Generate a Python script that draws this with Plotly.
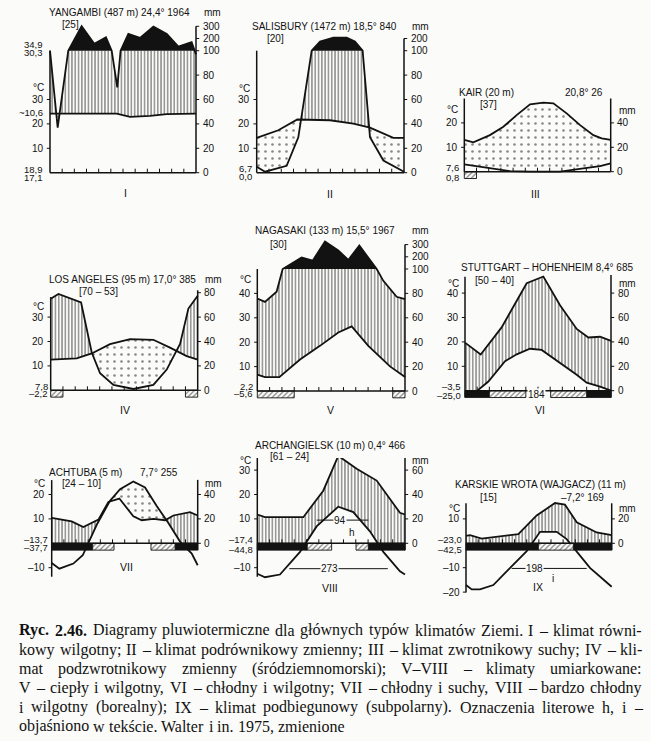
import numpy as np
import plotly.graph_objects as go

W, H = 651, 741
S = 2.44                      # px per 1 °C  (10 °C = 20 mm)
BAR = 2.8                     # height of the frost bars (°C units)
INK = '#121212'
PAPER = '#fbfbf9'
SANS = 'Liberation Sans, Arial, Helvetica, sans-serif'
SERIF = 'Liberation Serif, Times New Roman, serif'

# ====================== DATA (month position 0-12, °C, mm) ======================
# I  Yangambi
yangambi_title = 'YANGAMBI (487 m) 24,4° 1964'
yangambi_years = '[25]'
yangambi_temp_x = [0, 5.48, 6.58, 8.22, 9.59, 12]
yangambi_temp = [24.2, 24.2, 22.9, 23.3, 24.0, 24.2]
yangambi_prec_x = [0, 0.63, 1.5, 2.6, 3.64, 4.6, 5.07, 5.53, 5.8, 6.44, 7.4, 8.5, 9.6, 10.55, 11.64, 12]
yangambi_prec = [100, 37, 100, 300, 156, 210, 100, 70, 100, 238, 205, 297, 238, 134, 170, 97]
yangambi_extremes = [('34,9', 52.6), ('30,3', 49.3), ('~10,6', 24.8), ('18,9', 1.2), ('17,1', -2.1)]

# II  Salisbury
salisbury_title = 'SALISBURY (1472 m) 18,5° 840'
salisbury_years = '[20]'
salisbury_temp_x = [0, 1.76, 3.31, 3.67, 5.97, 7.87, 9.23, 11.13, 12]
salisbury_temp = [14.3, 17.4, 21.8, 21.8, 21.5, 20.1, 18.5, 14.3, 14.3]
salisbury_prec_x = [0, 0.68, 2.44, 3.39, 4.48, 5.16, 6.25, 7.33, 8.0, 8.63, 9.23, 10.32, 12]
salisbury_prec = [4.9, 0.8, 5.7, 29, 100, 176, 206, 206, 176, 100, 29, 10, 0.8]
salisbury_extremes = [('6,7', 1.6), ('0,0', -1.6)]

# III  Kair
kair_title = 'KAIR (20 m)'
kair_means = '20,8° 26'
kair_years = '[37]'
kair_temp_x = [0, 0.74, 2.1, 3.2, 4.29, 5.39, 6.48, 7.3, 8.39, 9.49, 10.58, 11.26, 12]
kair_temp = [13.0, 12.0, 15.0, 18.4, 23.2, 27.6, 28.3, 28.0, 23.9, 19.1, 15.0, 13.7, 13.0]
kair_prec_x = [0, 1.01, 2.38, 3.75, 5.39, 7.85, 9.76, 11.13, 12]
kair_prec = [6.0, 4.6, 2.7, 0.5, 0, 0, 2.7, 4.6, 6.8]
kair_extremes = [('7,6', 1.6), ('0,8', -2.3)]
kair_frost_hatch = [(0, 1)]

# IV  Los Angeles
la_title = 'LOS ANGELES (95 m) 17,0° 385'
la_years = '[70 – 53]'
la_temp_x = [0, 2.12, 3.35, 4.84, 6.48, 8.38, 9.74, 11.1, 12]
la_temp = [12.6, 13.1, 15.1, 18.9, 21.0, 20.7, 17.5, 14.0, 12.6]
la_prec_x = [0, 0.63, 2.48, 3.35, 4.03, 5.12, 6.75, 8.38, 9.47, 10.56, 11.24, 12]
la_prec = [75, 79, 72, 31, 14, 4.4, 1.1, 4.4, 17, 38, 67, 77.5]
la_extremes = [('7,8', 1.6), ('–2,2', -1.4)]
la_frost_hatch = [(0, 1), (11, 12)]

# V  Nagasaki
nagasaki_title = 'NAGASAKI (133 m) 15,5° 1967'
nagasaki_years = '[30]'
nagasaki_temp_x = [0, 0.62, 1.79, 3.47, 5.09, 6.58, 7.67, 9.02, 10.78, 12]
nagasaki_temp = [6.7, 5.7, 5.7, 12.9, 18.5, 24.0, 26.5, 18.5, 10.1, 5.7]
nagasaki_prec_x = [0, 0.62, 1.57, 2.06, 3.6, 4.5, 5.5, 6.58, 7.39, 8.29, 9.7, 10.24, 11.32, 12]
nagasaki_prec = [75.8, 73, 81.4, 100, 195, 168, 326, 253, 174, 292, 100, 90.3, 77.2, 75.3]
nagasaki_extremes = [('2,2', 1.8), ('–5,6', -1.1)]
nagasaki_frost_hatch = [(0, 3), (11, 12)]

# VI  Stuttgart-Hohenheim
stuttgart_title = 'STUTTGART – HOHENHEIM 8,4° 685'
stuttgart_years = '[50 – 40]'
stuttgart_temp_x = [0, 1.01, 1.92, 3.29, 4.25, 5.34, 6.3, 7.81, 9.18, 10.0, 11.1, 12]
stuttgart_temp = [-0.8, 0, 3.75, 12.1, 14.9, 17.2, 16.7, 11.4, 6.5, 3.3, 1.7, 0]
stuttgart_prec_x = [0, 1.29, 3.01, 5.07, 6.44, 7.81, 9.18, 10.14, 11.1, 12]
stuttgart_prec = [39.4, 29.7, 51.9, 88.1, 93.6, 70, 50.6, 43.6, 44.2, 40.8]
stuttgart_extremes = [('–3,5', 1.7), ('–25,0', -1.8)]
stuttgart_frost_black = [(0, 2), (10, 12)]
stuttgart_frost_hatch = [(2, 5), (7.04, 10)]
stuttgart_frost_free = '184'

# VII  Achtuba
achtuba_title = 'ACHTUBA (5 m)'
achtuba_means = '7,7° 255'
achtuba_years = '[24 – 10]'
achtuba_temp_x = [0, 0.63, 1.78, 2.55, 3.7, 4.79, 5.62, 6.71, 7.67, 8.63, 9.59, 10.55, 11.51, 12]
achtuba_temp = [-8.1, -10.4, -8.3, -4.9, 7.6, 17.4, 22.2, 25.3, 22.9, 15.3, 8.3, 0.7, -4.2, -9.0]
achtuba_prec_x = [0, 0.55, 1.64, 2.6, 3.84, 4.66, 5.56, 6.71, 7.4, 8.36, 9.32, 10.0, 10.68, 11.37, 12]
achtuba_prec = [20.8, 20, 18, 13.3, 19.4, 33.9, 36.7, 22.2, 18.9, 20, 18.9, 22.8, 24.4, 25.6, 22.8]
achtuba_extremes = [('–13,7', 1.7), ('–37,7', -1.7)]
achtuba_frost_black = [(0, 3.37), (10.14, 12)]
achtuba_frost_hatch = [(3.37, 5.12), (8.16, 10.14)]

# VIII  Archangielsk
arch_title = 'ARCHANGIELSK (10 m) 0,4° 466'
arch_years = '[61 – 24]'
arch_temp_x = [0, 0.62, 1.84, 3.47, 4.82, 6.58, 7.8, 9.15, 10.24, 11.59, 12]
arch_temp = [-12.5, -13.9, -12.8, -3.5, 6.9, 15.0, 12.8, 4.9, -3.5, -11.5, -12.8]
arch_prec_x = [0, 0.62, 3.74, 5.36, 6.58, 8.07, 9.7, 10.78, 11.59, 12]
arch_prec = [23.6, 21.4, 21.4, 43.1, 71.7, 61.1, 51.4, 36.1, 25, 23.6]
arch_extremes = [('–17,4', 1.5), ('–44,8', -2.7)]
arch_frost_black = [(0, 4.06), (9.02, 12)]
arch_frost_hatch = [(4.06, 6.04), (8.02, 9.02)]
arch_periods = [('94', 9.5, 4.82, 9.02, 6.72), ('273', -10.4, 2.6, 10.6, 5.9)]   # label, level, start, end, label pos
arch_letter = ('h', 7.67, 4.4)

# IX  Karskie Wrota
kw_title = 'KARSKIE WROTA (WAJGACZ) (11 m)'
kw_means = '–7,2° 169'
kw_years = '[15]'
kw_temp_x = [0, 0.47, 1.15, 2.25, 3.49, 5.0, 6.1, 7.47, 8.29, 9.12, 10.21, 12]
kw_temp = [-17.1, -18.9, -18.9, -17.1, -10.8, -3.2, 4.7, 4.7, 1.7, -3.2, -10.1, -17.8]
kw_prec_x = [0, 0.33, 1.29, 4.31, 5.82, 7.33, 8.15, 9.12, 10.76, 12]
kw_prec = [6.1, 6.7, 3.9, 7.5, 22.8, 33, 31.7, 17.2, 8.9, 6.7]
kw_extremes = [('–23,0', 1.5), ('–42,5', -2.7)]
kw_frost_black = [(0, 5.96), (8.84, 12)]
kw_frost_hatch = [(5.96, 8.84)]
kw_periods = [('198', -10.3, 3.76, 9.94, 5.68)]
kw_letter = ('i', 7.19, -14.3)

caption_lines = [
    '**Ryc. **2.46.** Diagramy pluwiotermiczne dla głównych typów klimatów Ziemi. I – klimat równi-',
    'kowy wilgotny; II – klimat podrównikowy zmienny; III – klimat zwrotnikowy suchy; IV – kli-',
    'mat podzwrotnikowy zmienny (śródziemnomorski); V–VIII – klimaty umiarkowane:',
    'V – ciepły i wilgotny, VI – chłodny i wilgotny; VII – chłodny i suchy, VIII – bardzo chłodny',
    'i wilgotny (borealny); IX – klimat podbiegunowy (subpolarny). Oznaczenia literowe h, i –',
    'objaśniono w tekście. Walter i in. 1975, zmienione',
]
caption_justified = [True, True, True, True, True, False]


def deg_label(v):
    return ('–' + str(abs(v))) if v < 0 else str(v)


# ====================== PANEL SETUP (layout only) ======================
PANELS = [
    dict(num='I', xl=50, xr=196, yb=172.7, box=(34, 212, 8, 186),
         tx=yangambi_temp_x, t=yangambi_temp, px=yangambi_prec_x, p=yangambi_prec,
         lax=(0, 50), rax=(0, 60), lt=[10, 20, 30], rt=[0, 20, 40, 60, 80, 100, 200, 300],
         ext=yangambi_extremes, ldx=6.5, degc=34.8, black=[], hatch=[],
         texts=[(yangambi_title, 47, 12), ('mm', 202, 12), (yangambi_years, 60, 25)],
         roman=(125, 193)),
    dict(num='II', xl=256.7, xr=404, yb=172.7, box=(241, 420, 8, 186),
         tx=salisbury_temp_x, t=salisbury_temp, px=salisbury_prec_x, p=salisbury_prec,
         lax=(0, 50), rax=(0, 55), lt=[10, 20, 30], rt=[0, 20, 40, 60, 80, 100, 200],
         ext=salisbury_extremes, ldx=4, degc=34.7, black=[], hatch=[],
         texts=[(salisbury_title, 250, 26), ('mm', 410, 26), (salisbury_years, 265, 38)],
         roman=(330, 194)),
    dict(num='III', xl=464.3, xr=610.7, yb=171.7, box=(448, 627, 8, 186),
         tx=kair_temp_x, t=kair_temp, px=kair_prec_x, p=kair_prec,
         lax=(0, 30), rax=(0, 30), lt=[10, 20], rt=[0, 20, 40],
         ext=kair_extremes, ldx=4, degc=25.3, black=[], hatch=kair_frost_hatch,
         texts=[(kair_title, 456.7, 92.3), (kair_means, 563, 92.3), (kair_years, 478, 104), ('mm', 617, 111)],
         roman=(535, 194)),
    dict(num='IV', xl=50.7, xr=197.7, yb=390.3, box=(34, 212, 225, 405),
         tx=la_temp_x, t=la_temp, px=la_prec_x, p=la_prec,
         lax=(0, 38.2), rax=(0, 41), lt=[10, 20, 30], rt=[0, 20, 40, 60, 80],
         ext=la_extremes, ldx=2, degc=34.3, black=[], hatch=la_frost_hatch,
         texts=[(la_title, 46.7, 279), ('mm', 203, 279), (la_years, 77, 291)],
         roman=(125, 410)),
    dict(num='V', xl=257.3, xr=405, yb=391, box=(241, 420, 225, 405),
         tx=nagasaki_temp_x, t=nagasaki_temp, px=nagasaki_prec_x, p=nagasaki_prec,
         lax=(0, 50), rax=(0, 60), lt=[10, 20, 30, 40], rt=[0, 20, 40, 60, 80, 100, 200, 300],
         ext=nagasaki_extremes, ldx=3, degc=45.5, black=[], hatch=nagasaki_frost_hatch,
         texts=[(nagasaki_title, 253, 230.7), ('mm', 410, 230.7), (nagasaki_years, 268, 244)],
         roman=(330, 410)),
    dict(num='VI', xl=465, xr=611, yb=390.7, box=(448, 627, 225, 405),
         tx=stuttgart_temp_x, t=stuttgart_temp, px=stuttgart_prec_x, p=stuttgart_prec,
         lax=(-BAR, 46.7), rax=(-BAR, 47.4), lt=[10, 20, 30, 40], rt=[0, 20, 40, 60, 80],
         ext=stuttgart_extremes, ldx=3, degc=44.1, black=stuttgart_frost_black, hatch=stuttgart_frost_hatch,
         texts=[(stuttgart_title, 459, 267.3), (stuttgart_years, 473, 280.7), ('mm', 617, 283.3)],
         roman=(540, 410)),
    dict(num='VII', xl=51.7, xr=197.7, yb=543.3, box=(34, 212, 458, 602),
         tx=achtuba_temp_x, t=achtuba_temp, px=achtuba_prec_x, p=achtuba_prec,
         lax=(-13.7, 25.9), rax=(-BAR, 26), lt=[-10, 10, 20], rt=[0, 20, 40],
         ext=achtuba_extremes, ldx=3, degc=24.7, black=achtuba_frost_black, hatch=achtuba_frost_hatch,
         texts=[(achtuba_title, 46.7, 472.3), (achtuba_means, 138, 472.3), (achtuba_years, 60, 484), ('mm', 203, 483)],
         roman=(126.7, 566.7)),
    dict(num='VIII', xl=257.3, xr=405, yb=543.3, box=(241, 420, 458, 602),
         tx=arch_temp_x, t=arch_temp, px=arch_prec_x, p=arch_prec,
         lax=(-13.7, 37.6), rax=(-BAR, 36.9), lt=[-10, 10, 20, 30], rt=[0, 20, 40, 60],
         ext=arch_extremes, ldx=3, degc=34.1, black=arch_frost_black, hatch=arch_frost_hatch,
         texts=[(arch_title, 253, 445), (arch_years, 268, 456.7), ('mm', 410, 460.7)],
         roman=(330, 588.3), periods=arch_periods, letter=arch_letter),
    dict(num='IX', xl=466, xr=611.7, yb=543.3, box=(448, 627, 458, 602),
         tx=kw_temp_x, t=kw_temp, px=kw_prec_x, p=kw_prec,
         lax=(-20.2, 16.4), rax=(-BAR, 16.4), lt=[-20, -10, 10], rt=[0, 20],
         ext=kw_extremes, ldx=3, degc=14.3, black=kw_frost_black, hatch=kw_frost_hatch,
         texts=[(kw_title, 453, 485), (kw_years, 478, 497.7), (kw_means, 559, 497.7), ('mm', 617, 508.3)],
         roman=(538.3, 587.3), periods=kw_periods, letter=kw_letter),
]
PANELS[5]['free'] = (stuttgart_frost_free, 5.88, -1.5)


def eq(p):
    """precipitation (mm) -> diagram units: 20 mm = 10 °C, above 100 mm reduced 1:10"""
    p = np.asarray(p, dtype=float)
    return np.where(p <= 100, p / 2.0, 50 + (p - 100) / 20.0)


def crossings(xs, f):
    out = []
    for i in range(len(xs) - 1):
        a, b = f[i], f[i + 1]
        if a * b < 0:
            out.append(xs[i] + (xs[i + 1] - xs[i]) * a / (a - b))
    return out


fig = go.Figure()
annotations = []


def paper(xp, yp):
    return xp / W, 1 - yp / H


for i, P in enumerate(PANELS, start=1):
    xa = 'x' if i == 1 else f'x{i}'
    ya = 'y' if i == 1 else f'y{i}'
    xl, xr, yb = P['xl'], P['xr'], P['yb']
    mpx = (xr - xl) / 12.0
    bx0, bx1, by0, by1 = P['box']
    ax_key = '' if i == 1 else str(i)
    fig.update_layout(**{
        f'xaxis{ax_key}': dict(domain=[bx0 / W, bx1 / W], range=[(bx0 - xl) / mpx, (bx1 - xl) / mpx],
                               visible=False, anchor=ya, fixedrange=True),
        f'yaxis{ax_key}': dict(domain=[1 - by1 / H, 1 - by0 / H], range=[(yb - by1) / S, (yb - by0) / S],
                               visible=False, anchor=xa, fixedrange=True),
    })
    dxm = lambda d: d / mpx
    dyd = lambda d: d / S

    tx, tv = np.array(P['tx'], float), np.array(P['t'], float)
    pxv, pv = np.array(P['px'], float), eq(P['p'])
    xs = np.union1d(tx, pxv)
    T = np.interp(xs, tx, tv)
    Pq = np.interp(xs, pxv, pv)
    extra = crossings(xs, Pq - T) + crossings(xs, Pq - 50) + crossings(xs, T)
    xs = np.union1d(xs, extra)
    T = np.interp(xs, tx, tv)
    Pq = np.interp(xs, pxv, pv)

    def poly(up, low, **kw):
        fig.add_trace(go.Scatter(x=list(xs) + list(xs[::-1]), y=list(up) + list(low[::-1]),
                                 mode='lines', line=dict(width=0), fill='toself',
                                 xaxis=xa, yaxis=ya, showlegend=False, hoverinfo='skip', **kw))

    low_h = np.maximum(T, 0)
    up_h = np.maximum(np.minimum(Pq, 50), low_h)
    poly(up_h, low_h, fillcolor='rgba(0,0,0,0)',
         fillpattern=dict(shape='|', fgcolor=INK, bgcolor='rgba(0,0,0,0)', size=3.3, solidity=0.42))
    poly(np.maximum(T, Pq), Pq, fillcolor='rgba(0,0,0,0)',
         fillpattern=dict(shape='.', fgcolor=INK, bgcolor='rgba(0,0,0,0)', size=7, solidity=0.11))
    if Pq.max() > 50:
        poly(np.maximum(Pq, 50), np.full_like(Pq, 50.0), fillcolor=INK)

    # curves
    fig.add_trace(go.Scatter(x=tx, y=tv, mode='lines', line=dict(color=INK, width=1.8),
                             xaxis=xa, yaxis=ya, showlegend=False, hoverinfo='skip'))
    fig.add_trace(go.Scatter(x=pxv, y=pv, mode='lines', line=dict(color=INK, width=1.8),
                             xaxis=xa, yaxis=ya, showlegend=False, hoverinfo='skip'))

    # frost bars
    for (a, b) in P['black']:
        fig.add_trace(go.Scatter(x=[a, b, b, a, a], y=[0, 0, -BAR, -BAR, 0], mode='lines',
                                 line=dict(color=INK, width=0.8), fill='toself', fillcolor=INK,
                                 xaxis=xa, yaxis=ya, showlegend=False, hoverinfo='skip'))
    for (a, b) in P['hatch']:
        fig.add_trace(go.Scatter(x=[a, b, b, a, a], y=[0, 0, -BAR, -BAR, 0], mode='lines',
                                 line=dict(color=INK, width=0.9), fill='toself', fillcolor=PAPER,
                                 fillpattern=dict(shape='/', fgcolor=INK, bgcolor=PAPER, size=3.6, solidity=0.35),
                                 xaxis=xa, yaxis=ya, showlegend=False, hoverinfo='skip'))

    # axes lines
    ax_x, ax_y = [], []
    ax_x += [0, 0, None]; ax_y += [P['lax'][0], P['lax'][1], None]
    ax_x += [12, 12, None]; ax_y += [P['rax'][0], P['rax'][1], None]
    ax_x += [0, 12, None]; ax_y += [0, 0, None]
    fig.add_trace(go.Scatter(x=ax_x, y=ax_y, mode='lines', line=dict(color=INK, width=1.5),
                             xaxis=xa, yaxis=ya, showlegend=False, hoverinfo='skip'))
    tk_x, tk_y = [], []
    for m in range(1, 12):
        tk_x += [m, m, None]; tk_y += [0, dyd(4), None]
    for v in P['lt']:
        tk_x += [0, -dxm(3.2), None]; tk_y += [v, v, None]
    for mm in P['rt']:
        e = float(eq(mm))
        tk_x += [12, 12 + dxm(3.2), None]; tk_y += [e, e, None]
    fig.add_trace(go.Scatter(x=tk_x, y=tk_y, mode='lines', line=dict(color=INK, width=1.0),
                             xaxis=xa, yaxis=ya, showlegend=False, hoverinfo='skip'))

    font = dict(family=SANS, size=10, color=INK)
    small = dict(family=SANS, size=9.5, color=INK)
    for v in P['lt']:
        annotations.append(dict(x=-dxm(4.5), y=v, xref=xa, yref=ya, text=deg_label(v), showarrow=False,
                                xanchor='right', yanchor='middle', font=font))
    for txt, v in P['ext']:
        annotations.append(dict(x=-dxm(P['ldx']), y=v, xref=xa, yref=ya, text=txt, showarrow=False,
                                xanchor='right', yanchor='middle', font=small, borderpad=0))
    annotations.append(dict(x=-dxm(4.5), y=P['degc'], xref=xa, yref=ya, text='°C', showarrow=False,
                            xanchor='right', yanchor='middle', font=font))
    for mm in P['rt']:
        annotations.append(dict(x=12 + dxm(4.5), y=float(eq(mm)), xref=xa, yref=ya, text=str(mm),
                                showarrow=False, xanchor='left', yanchor='middle', font=font))
    for txt, xp, yp in P['texts']:
        px_, py_ = paper(xp, yp)
        annotations.append(dict(x=px_, y=py_, xref='paper', yref='paper', text=txt, showarrow=False,
                                xanchor='left', yanchor='middle', font=font))
    rx, ry = paper(*P['roman'])
    annotations.append(dict(x=rx, y=ry, xref='paper', yref='paper', text=P['num'], showarrow=False,
                            xanchor='center', yanchor='middle', font=dict(family=SANS, size=10.5, color=INK)))

    for lab, lvl, a, b, lx in P.get('periods', []):
        fig.add_trace(go.Scatter(x=[a, b], y=[lvl, lvl], mode='lines', line=dict(color=INK, width=1.0),
                                 xaxis=xa, yaxis=ya, showlegend=False, hoverinfo='skip'))
        annotations.append(dict(x=lx, y=lvl, xref=xa, yref=ya, text=lab, showarrow=False,
                                bgcolor=PAPER, borderpad=0, font=font))
    if 'letter' in P:
        lab, lx, ly = P['letter']
        annotations.append(dict(x=lx, y=ly, xref=xa, yref=ya, text=lab, showarrow=False, font=font))
    if 'free' in P:
        lab, lx, ly = P['free']
        annotations.append(dict(x=lx, y=ly, xref=xa, yref=ya, text=lab, showarrow=False,
                                bgcolor=PAPER, borderpad=0, font=font))

# ---------------- caption: justified with Times-metric word widths ----------------
TW = {' ': 250, '(': 333, ')': 333, ',': 250, '-': 333, '.': 250, ':': 278, ';': 278, '–': 500,
      'A': 722, 'B': 667, 'C': 667, 'D': 722, 'E': 611, 'F': 556, 'G': 722, 'H': 722, 'I': 333, 'J': 389,
      'K': 722, 'L': 611, 'M': 889, 'N': 722, 'O': 722, 'P': 556, 'Q': 722, 'R': 667, 'S': 556, 'T': 611,
      'U': 722, 'V': 722, 'W': 944, 'X': 722, 'Y': 722, 'Z': 611,
      'a': 444, 'b': 500, 'c': 444, 'd': 500, 'e': 444, 'f': 333, 'g': 500, 'h': 500, 'i': 278, 'j': 278,
      'k': 500, 'l': 278, 'm': 778, 'n': 500, 'o': 500, 'p': 500, 'q': 500, 'r': 333, 's': 389, 't': 278,
      'u': 500, 'v': 500, 'w': 722, 'x': 500, 'y': 500, 'z': 444,
      'ó': 500, 'ł': 278, 'ś': 389, 'ą': 444, 'ę': 444, 'ż': 444, 'ź': 444, 'ć': 444, 'ń': 500}
TWB = {'R': 722, 'y': 500, 'c': 444}
CAP_SIZE = 16
CAP_X0, CAP_X1 = 18, 641
cap_y = [630, 649.5, 668.5, 687.5, 707, 726]


def word_width(w, bold=False):
    tot = 0
    for ch in w:
        if ch.isdigit():
            tot += 500
        elif bold and ch in TWB:
            tot += TWB[ch]
        else:
            tot += TW.get(ch, 500)
    return tot / 1000.0 * CAP_SIZE


for line, yp, just in zip(caption_lines, cap_y, caption_justified):
    words = []
    for w in line.split(' '):
        if w.startswith('**'):
            words.append((w.strip('*'), True))
        else:
            words.append((w, False))
    widths = [word_width(w, b) for w, b in words]
    if just and len(words) > 1:
        gap = (CAP_X1 - CAP_X0 - sum(widths)) / (len(words) - 1)
    else:
        gap = TW[' '] / 1000.0 * CAP_SIZE
    x = CAP_X0
    for (w, b), wd in zip(words, widths):
        px_, py_ = paper(x, yp)
        annotations.append(dict(x=px_, y=py_, xref='paper', yref='paper',
                                text=f'<b>{w}</b>' if b else w, showarrow=False,
                                xanchor='left', yanchor='middle', borderpad=0,
                                font=dict(family=SERIF, size=CAP_SIZE, color='#111111')))
        x += wd + gap

fig.update_layout(width=W, height=H, autosize=False, margin=dict(l=0, r=0, t=0, b=0),
                  paper_bgcolor=PAPER, plot_bgcolor='rgba(0,0,0,0)', showlegend=False,
                  annotations=annotations)

fig.write_html('out.html', include_plotlyjs=True, config={'displayModeBar': False, 'staticPlot': True},
               post_script="document.body.style.margin='0';document.body.style.overflow='hidden';")
